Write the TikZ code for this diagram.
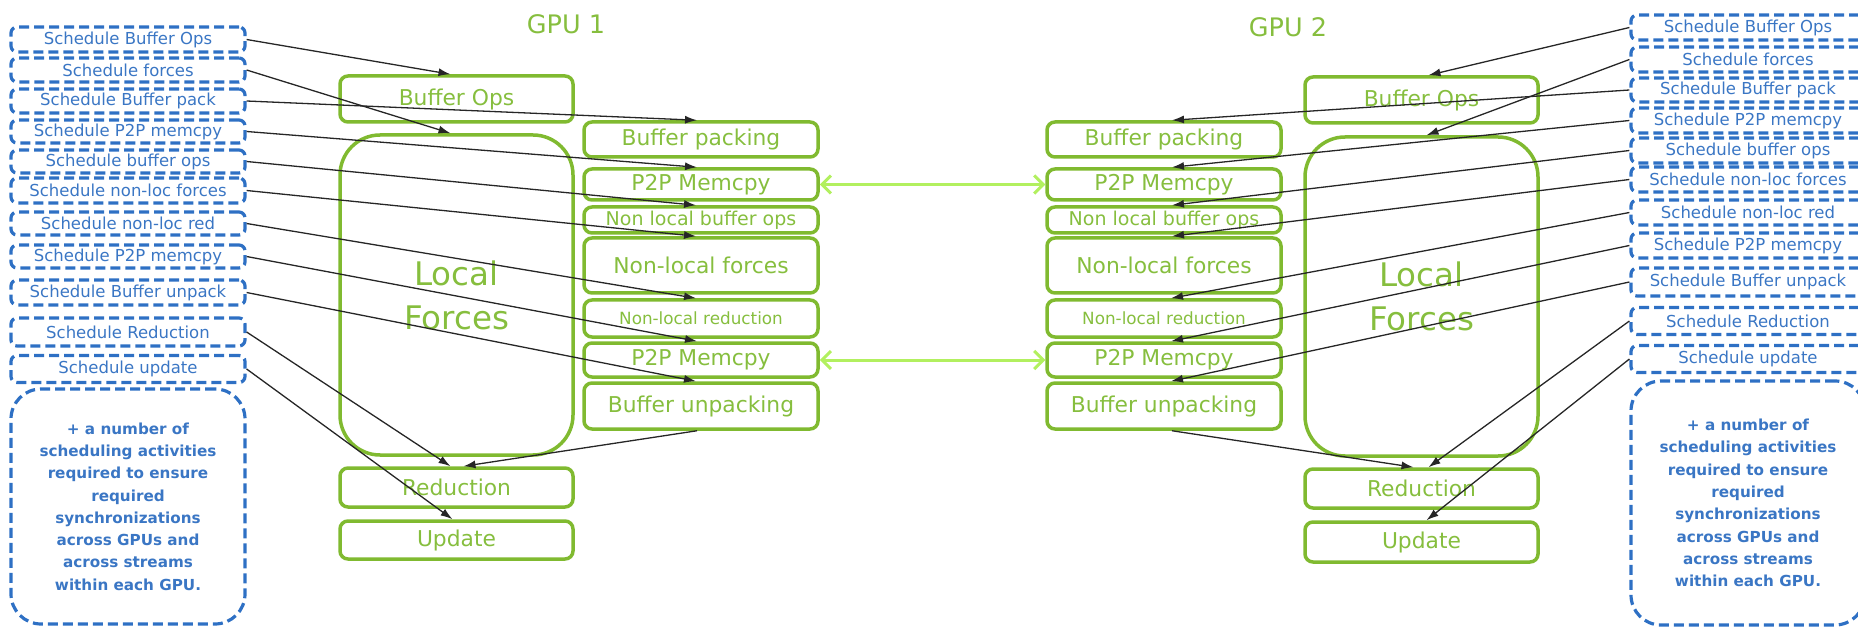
\documentclass[tikz,border=0pt]{standalone}
\usepackage{fontspec}
\setmainfont{DejaVu Sans}
\usetikzlibrary{arrows.meta}
\definecolor{gpugreen}{RGB}{128,186,48}
\definecolor{gputext}{RGB}{134,190,62}
\definecolor{linkgreen}{RGB}{178,240,95}
\definecolor{schedblue}{RGB}{46,112,196}
\definecolor{schedtext}{RGB}{58,118,196}
\begin{document}
\begin{tikzpicture}[x=1pt,y=-1pt,
  stage/.style={draw=gpugreen, line width=3.5pt, rounded corners=8pt, text=gputext,
    inner sep=0pt, align=center, font=\fontsize{21.8}{26}\selectfont},
  sched/.style={draw=schedblue, line width=3.2pt, dash pattern=on 10pt off 5pt,
    rounded corners=6pt, text=schedtext, inner sep=0pt, minimum width=234pt,
    font=\fontsize{16.5}{20}\selectfont},
  note/.style={sched, rounded corners=30pt, align=center,
    font=\bfseries\fontsize{15.2}{22.3}\selectfont},
  cue/.style={draw=black!85, line width=1.3pt, -{Latex[length=12pt,width=8pt]}},
  link/.style={draw=linkgreen, line width=3pt,
    {Straight Barb[length=9pt,width=18pt]}-{Straight Barb[length=9pt,width=18pt]}},
  gpulabel/.style={text=gputext, font=\fontsize{25.5}{30}\selectfont},
  lcol/.style={stage, minimum width=233pt},
  rcol/.style={stage, minimum width=234pt},
  bigtext/.style={font=\fontsize{32.5}{44}\selectfont},
]
\useasboundingbox (0,0) rectangle (1858,628);
\clip (0,0) rectangle (1858,628);

% ---------- GPU 1 ----------
\node[gpulabel] (gpuA) at (566,24) {GPU 1};
\node[lcol, minimum height=46pt] (BO1) at (456.5,99) {Buffer Ops};
\node[lcol, minimum height=320pt, rounded corners=40pt, bigtext] (LF1) at (456.5,295) {Local\\Forces};
\node[lcol, minimum height=39pt] (RD1) at (456.5,487.5) {Reduction};
\node[lcol, minimum height=38pt] (UP1) at (456.5,540) {Update};

\node[rcol, minimum height=35pt] (BP1) at (701,139.5) {Buffer packing};
\node[rcol, minimum height=31pt] (PA1) at (701,184.5) {P2P Memcpy};
\node[rcol, minimum height=26pt, font=\fontsize{19}{22}\selectfont] (NB1) at (701,220) {Non local buffer ops};
\node[rcol, minimum height=55pt] (NF1) at (701,265.5) {Non-local forces};
\node[rcol, minimum height=37pt, font=\fontsize{16.8}{20}\selectfont] (NR1) at (701,318.5) {Non-local reduction};
\node[rcol, minimum height=34pt] (PB1) at (701,360) {P2P Memcpy};
\node[rcol, minimum height=46pt] (BU1) at (701,406) {Buffer unpacking};

% ---------- GPU 2 ----------
\node[gpulabel] (gpuB) at (1288,27) {GPU 2};
\node[rcol, minimum height=35pt] (BP2) at (1164,139.5) {Buffer packing};
\node[rcol, minimum height=31pt] (PA2) at (1164,184.5) {P2P Memcpy};
\node[rcol, minimum height=26pt, font=\fontsize{19}{22}\selectfont] (NB2) at (1164,220) {Non local buffer ops};
\node[rcol, minimum height=55pt] (NF2) at (1164,265.5) {Non-local forces};
\node[rcol, minimum height=37pt, font=\fontsize{16.8}{20}\selectfont] (NR2) at (1164,318.5) {Non-local reduction};
\node[rcol, minimum height=34pt] (PB2) at (1164,360) {P2P Memcpy};
\node[rcol, minimum height=46pt] (BU2) at (1164,406) {Buffer unpacking};

\node[lcol, minimum height=46pt] (BO2) at (1421.5,100) {Buffer Ops};
\node[lcol, minimum height=319pt, rounded corners=40pt, bigtext] (LF2) at (1421.5,296.5) {Local\\Forces};
\node[lcol, minimum height=39pt] (RD2) at (1421.5,488.5) {Reduction};
\node[lcol, minimum height=40pt] (UP2) at (1421.5,542) {Update};

% ---------- scheduling, GPU 1 side ----------
\node[sched, minimum height=25pt] (L1) at (128,39.5) {Schedule Buffer Ops};
\node[sched, minimum height=24pt] (L2) at (128,70) {Schedule forces};
\node[sched, minimum height=24pt] (L3) at (128,101) {Schedule Buffer pack};
\node[sched, minimum height=23pt] (L4) at (128,131.5) {Schedule P2P memcpy};
\node[sched, minimum height=23pt] (L5) at (128,161.5) {Schedule buffer ops};
\node[sched, minimum height=25pt] (L6) at (128,190.5) {Schedule non-loc forces};
\node[sched, minimum height=23pt] (L7) at (128,223.5) {Schedule non-loc red};
\node[sched, minimum height=23pt] (L8) at (128,256.5) {Schedule P2P memcpy};
\node[sched, minimum height=25pt] (L9) at (128,292.5) {Schedule Buffer unpack};
\node[sched, minimum height=28pt] (L10) at (128,332) {Schedule Reduction};
\node[sched, minimum height=27pt] (L11) at (128,369) {Schedule update};
\node[note, minimum height=235pt] (L12) at (128,506.5)
  {+ a number of\\scheduling activities\\required to ensure\\required\\synchronizations\\across GPUs and\\across streams\\within each GPU.};

% ---------- scheduling, GPU 2 side ----------
\node[sched, minimum height=25pt] (R1) at (1748,27.5) {Schedule Buffer Ops};
\node[sched, minimum height=25pt] (R2) at (1748,59.5) {Schedule forces};
\node[sched, minimum height=24pt] (R3) at (1748,90) {Schedule Buffer pack};
\node[sched, minimum height=25pt] (R4) at (1748,120.5) {Schedule P2P memcpy};
\node[sched, minimum height=25pt] (R5) at (1748,150.5) {Schedule buffer ops};
\node[sched, minimum height=25pt] (R6) at (1748,179.5) {Schedule non-loc forces};
\node[sched, minimum height=25pt] (R7) at (1748,212.5) {Schedule non-loc red};
\node[sched, minimum height=25pt] (R8) at (1748,245.5) {Schedule P2P memcpy};
\node[sched, minimum height=28pt] (R9) at (1748,282) {Schedule Buffer unpack};
\node[sched, minimum height=27pt] (R10) at (1748,321) {Schedule Reduction};
\node[sched, minimum height=27pt] (R11) at (1748,359) {Schedule update};
\node[note, minimum height=244pt] (R12) at (1748,503)
  {+ a number of\\scheduling activities\\required to ensure\\required\\synchronizations\\across GPUs and\\across streams\\within each GPU.};

% ---------- peer-to-peer copies ----------
\draw[link] (PA1.east) -- (PA2.west);
\draw[link] (PB1.east) -- (PB2.west);

% ---------- scheduling cues, GPU 1 ----------
\draw[cue] (L1.east) -- ([xshift=-6pt]BO1.north);
\draw[cue] (L2.east) -- ([xshift=-6pt]LF1.north);
\draw[cue] (L3.east) -- ([xshift=-4pt]BP1.north);
\draw[cue] (L4.east) -- ([xshift=-4pt]PA1.north);
\draw[cue] (L5.east) -- ([xshift=-5pt]NB1.north);
\draw[cue] (L6.east) -- ([xshift=-5pt]NF1.north);
\draw[cue] (L7.east) -- ([xshift=-5pt]NR1.north);
\draw[cue] (L8.east) -- ([xshift=-4pt]PB1.north);
\draw[cue] (L9.east) -- ([xshift=-5pt]BU1.north);
\draw[cue] (L10.east) -- ([xshift=-6pt]RD1.north);
\draw[cue] (L11.east) -- ([xshift=-4pt]UP1.north);
\draw[cue] ([xshift=-4pt]BU1.south) -- ([xshift=7pt]RD1.north);

% ---------- scheduling cues, GPU 2 ----------
\draw[cue] (R1.west) -- ([xshift=7pt]BO2.north);
\draw[cue] (R2.west) -- ([xshift=5pt]LF2.north);
\draw[cue] (R3.west) -- ([xshift=8pt]BP2.north);
\draw[cue] (R4.west) -- ([xshift=8pt]PA2.north);
\draw[cue] (R5.west) -- ([xshift=8pt]NB2.north);
\draw[cue] (R6.west) -- ([xshift=8pt]NF2.north);
\draw[cue] (R7.west) -- ([xshift=7pt]NR2.north);
\draw[cue] (R8.west) -- ([xshift=7pt]PB2.north);
\draw[cue] (R9.west) -- ([xshift=7pt]BU2.north);
\draw[cue] (R10.west) -- ([xshift=7pt]RD2.north);
\draw[cue] (R11.west) -- ([xshift=5pt]UP2.north);
\draw[cue] ([xshift=8pt]BU2.south) -- ([xshift=-8pt]RD2.north);
\end{tikzpicture}
\end{document}
